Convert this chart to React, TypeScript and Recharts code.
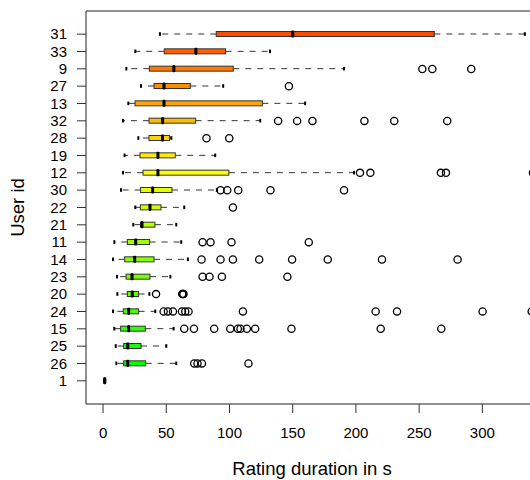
import {
  Bar,
  ComposedChart,
  Label,
  ReferenceArea,
  Scatter,
  XAxis,
  YAxis
} from "recharts";

// users ordered top to bottom by median rating time
const userIds = ["31", "33", "9", "27", "13", "32", "28", "19", "12", "30", "22", "21", "11", "14", "23", "20", "24", "15", "25", "26", "1"];
const lowerWhisker = [45, 25.5, 18.4, 30, 20, 15.8, 27.9, 17, 15.8, 14.2, 25.5, 23.9, 8.9, 7.9, 11, 11.3, 7.9, 8.9, 10, 10.5, 0.9];
const lowerQuartile = [89.5, 48.4, 36.6, 40.3, 25.3, 36.3, 36.3, 29.2, 31.6, 29.7, 29.5, 29.7, 19.2, 17.1, 18.2, 19.2, 16, 13.9, 16.3, 16.3, 1.0];
const medians = [150, 73.4, 56, 48.2, 48.2, 47.1, 47, 43.4, 43.4, 39.2, 37.1, 30.8, 25.8, 25, 22.9, 23.1, 20.2, 20.2, 19.5, 19.5, 1.3];
const upperQuartile = [262, 96.9, 103, 69, 126, 73.2, 52.6, 57.1, 99.5, 54.5, 45.8, 41, 36.8, 40.3, 37.1, 28.1, 28.1, 33.4, 30, 33.7, 1.5];
const upperWhisker = [333.6, 132, 190.6, 95, 159.8, 124.3, 54, 88.7, 198.5, 90, 64.2, 57.9, 61.8, 67.1, 53.2, 36.6, 41.3, 55.8, 50, 57.9, 1.7];
const outliers: number[][] = [
  [],
  [],
  [252.5, 260.4, 291.2],
  [147],
  [],
  [138.5, 153.5, 165.6, 206.7, 230.3, 272.2],
  [81.8, 99.8],
  [],
  [203.2, 211.4, 267.2, 271.2, 340],
  [92.9, 98.2, 106.9, 132.4, 190.6],
  [102.7],
  [],
  [78.7, 85, 101.6, 162.7],
  [77.9, 92.9, 102.7, 123.5, 149.5, 177.7, 220.6, 280.4],
  [78.7, 84.2, 94, 145.8],
  [41.9, 62.6, 63.1, 63.6],
  [47.9, 51.3, 55.3, 62.4, 65, 67.6, 110.6, 215.6, 232.5, 300.2, 339],
  [64.2, 71.9, 87.9, 100.6, 106.6, 108.7, 113.7, 120.3, 149, 219.6, 267.5],
  [],
  [72.1, 74.7, 78.2, 115],
  []
];
const xTicks = [0, 50, 100, 150, 200, 250, 300];

// red-orange to green ramp, one colour per user
const boxColors = [
  "#FF4800", "#FF5F00", "#FF7600", "#FF8D00", "#FFA400", "#FFBB00", "#FFD200",
  "#FFE900", "#FDFF00", "#E6FF00", "#CFFF00", "#B8FF00", "#A1FF00", "#8AFF00",
  "#73FF00", "#5CFF00", "#45FF00", "#2EFF00", "#17FF00", "#00FF00", "#00FF00"
];

const xDomain = [-13.5, 344];
const posDomain = [-1.345, 21.345];
const font = "'Liberation Sans', Arial, sans-serif";

// each box is a stack: invisible offset, lower whisker, two box halves, upper whisker
const rows = userIds.map((id, i) => ({
  id,
  color: boxColors[i],
  base: lowerWhisker[i],
  whiskerLow: lowerQuartile[i] - lowerWhisker[i],
  boxLow: medians[i] - lowerQuartile[i],
  boxHigh: upperQuartile[i] - medians[i],
  whiskerHigh: upperWhisker[i] - upperQuartile[i]
}));

// row index doubles as the outlier position (vertical layout counts downwards)
const points = outliers.flatMap((vals, i) => vals.map((v) => ({ v, pos: i })));

const Empty = () => <g />;

const WhiskerLow = (p: any) => {
  const cy = p.y + p.height / 2;
  return (
    <g>
      <line x1={p.x + p.width} x2={p.x} y1={cy} y2={cy} stroke="#333" strokeDasharray="6 6" />
      <line x1={p.x} x2={p.x} y1={cy - 1.8} y2={cy + 1.8} stroke="#000" strokeWidth={2} />
    </g>
  );
};

const WhiskerHigh = (p: any) => {
  const cy = p.y + p.height / 2;
  const end = p.x + p.width;
  return (
    <g>
      <line x1={p.x} x2={end} y1={cy} y2={cy} stroke="#333" strokeDasharray="6 6" />
      <line x1={end} x2={end} y1={cy - 1.8} y2={cy + 1.8} stroke="#000" strokeWidth={2} />
    </g>
  );
};

const BoxLow = (p: any) => (
  <rect x={p.x} y={p.y} width={Math.max(p.width, 0)} height={p.height} fill={p.payload.color} stroke="#333" strokeWidth={1} />
);

const BoxHigh = (p: any) => {
  const cy = p.y + p.height / 2;
  return (
    <g>
      <rect x={p.x} y={p.y} width={Math.max(p.width, 0)} height={p.height} fill={p.payload.color} stroke="#333" strokeWidth={1} />
      <rect x={p.x - 1.5} y={cy - 3.5} width={3} height={7} rx={1} fill="#000" />
    </g>
  );
};

const Ring = (p: any) => (
  <circle cx={p.cx} cy={p.cy} r={3.6} fill="none" stroke="#000" strokeWidth={1.3} />
);

const XTitle = (props: any) => {
  const { x, y, width } = props.viewBox;
  return (
    <text x={x + width / 2} y={y + 71} textAnchor="middle" fontSize={18.5} fill="#000" fontFamily={font}>
      Rating duration in s
    </text>
  );
};

const YTitle = (props: any) => {
  const { x, y, height } = props.viewBox;
  const tx = x + 24;
  const ty = y + height / 2;
  return (
    <text x={tx} y={ty} transform={`rotate(-90 ${tx} ${ty})`} textAnchor="middle" fontSize={18.5} fill="#000" fontFamily={font}>
      User id
    </text>
  );
};

export default function App() {
  return (
    <div
      style={{
        position: "absolute",
        left: 0,
        top: 0,
        width: 530,
        height: 480,
        overflow: "hidden",
        background: "#fff",
        fontFamily: font
      }}
    >
      <ComposedChart
        width={560}
        height={480}
        data={rows}
        layout="vertical"
        margin={{ top: 11, right: 22, bottom: 0, left: 0 }}
      >
        <XAxis
          type="number"
          domain={xDomain}
          ticks={xTicks}
          allowDataOverflow
          height={76}
          axisLine={false}
          tickSize={9}
          tickMargin={14}
          tickLine={{ stroke: "#333" }}
          tick={{ fill: "#000", fontSize: 15 }}
        >
          <Label content={XTitle} />
        </XAxis>
        <YAxis
          type="category"
          dataKey="id"
          width={86}
          padding={{ top: 14.5, bottom: 14.5 }}
          axisLine={false}
          tickSize={9}
          tickMargin={10}
          tickLine={{ stroke: "#333" }}
          tick={{ fill: "#000", fontSize: 15 }}
          interval={0}
        >
          <Label content={YTitle} />
        </YAxis>
        <YAxis yAxisId="pos" type="number" dataKey="pos" domain={posDomain} allowDataOverflow hide />
        <ReferenceArea
          x1={xDomain[0]}
          x2={xDomain[1]}
          y1={posDomain[0]}
          y2={posDomain[1]}
          yAxisId="pos"
          fill="none"
          fillOpacity={0}
          stroke="#222"
          strokeWidth={1}
          ifOverflow="visible"
        />
        <Bar dataKey="base" stackId="box" barSize={5} shape={Empty} isAnimationActive={false} />
        <Bar dataKey="whiskerLow" stackId="box" barSize={5} shape={WhiskerLow} isAnimationActive={false} />
        <Bar dataKey="boxLow" stackId="box" barSize={5} shape={BoxLow} isAnimationActive={false} />
        <Bar dataKey="boxHigh" stackId="box" barSize={5} shape={BoxHigh} isAnimationActive={false} />
        <Bar dataKey="whiskerHigh" stackId="box" barSize={5} shape={WhiskerHigh} isAnimationActive={false} />
        <Scatter data={points} dataKey="v" yAxisId="pos" shape={Ring} isAnimationActive={false} />
      </ComposedChart>
    </div>
  );
}
